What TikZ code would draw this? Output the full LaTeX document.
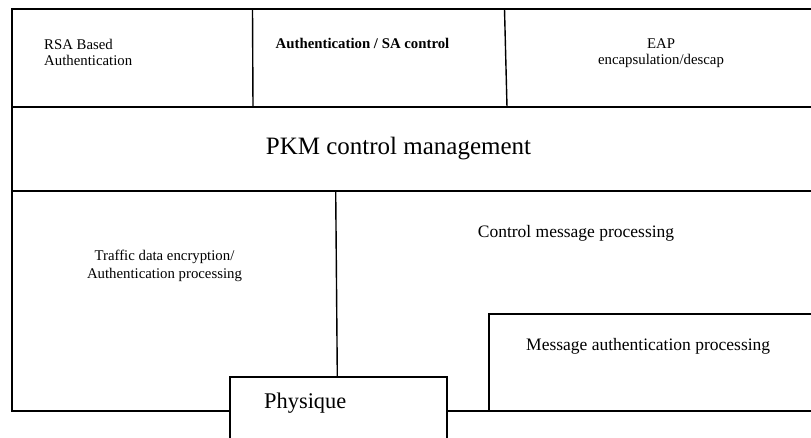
\documentclass[tikz,border=0pt]{standalone}
\usepackage{fontspec}
\setmainfont{Liberation Serif}
\begin{document}
\begin{tikzpicture}[x=1pt,y=-1pt,
  frame/.style={line width=1.8pt},
  divider/.style={line width=1.4pt},
  smalltxt/.style={inner sep=0pt,font=\fontsize{14.8}{16}\selectfont},
  midtxt/.style={inner sep=0pt,font=\fontsize{17.5}{19}\selectfont},
  bigtxt/.style={inner sep=0pt,font=\fontsize{25}{28}\selectfont},
  phytxt/.style={inner sep=0pt,font=\fontsize{22.4}{25}\selectfont}]
\useasboundingbox[fill=white] (0,0) rectangle (811,437);
% named corner points
\coordinate (tl) at (12,9);
\coordinate (tr) at (811,9);
\coordinate (bl) at (12,411);
\coordinate (r1l) at (12,107);
\coordinate (r1r) at (811,107);
\coordinate (r2l) at (12,191);
\coordinate (r2r) at (811,191);
\coordinate (physl) at (230,411);
\coordinate (physr) at (447,411);
\coordinate (br) at (811,411);
% frame
\draw[frame] (tr) -- (tl) -- (bl) -- (physl);
\draw[frame] (physr) -- (br);
\draw[frame] (r1l) -- (r1r);
\draw[frame] (r2l) -- (r2r);
% top dividers
\draw[divider] (252.5,9) -- (253,107);
\draw[divider] (504.5,9) -- (507,107);
% bottom divider
\draw[divider] (335.7,191) -- (337.3,377);
% physique box (runs off the page)
\draw[frame] (230,445) -- (230,377) -- (447,377) -- (447,445);
% message authentication box
\draw[frame] (489,411) -- (489,314) -- (811,314);
% texts
\node[smalltxt,align=left,anchor=north west] (rsa) at (44,38.9) {RSA Based\\Authentication};
\node[smalltxt,anchor=base west,font=\fontsize{14.8}{16}\selectfont\bfseries] (auth) at (275.5,48) {Authentication / SA control};
\node[smalltxt,align=center,anchor=north] (eap) at (661,38.4) {EAP\\encapsulation/descap};
\node[bigtxt,anchor=base] (pkm) at (398.5,154) {PKM control management};
\node[smalltxt,align=center,anchor=north,font=\fontsize{14.8}{17.7}\selectfont] (traffic) at (164.5,249.9) {Traffic data encryption/\\Authentication processing};
\node[midtxt,anchor=base] (ctrl) at (576,237) {Control message processing};
\node[midtxt,anchor=base west] (msg) at (526,350) {Message authentication processing};
\node[phytxt,anchor=base west] (phy) at (264,408) {Physique};
\end{tikzpicture}
\end{document}
